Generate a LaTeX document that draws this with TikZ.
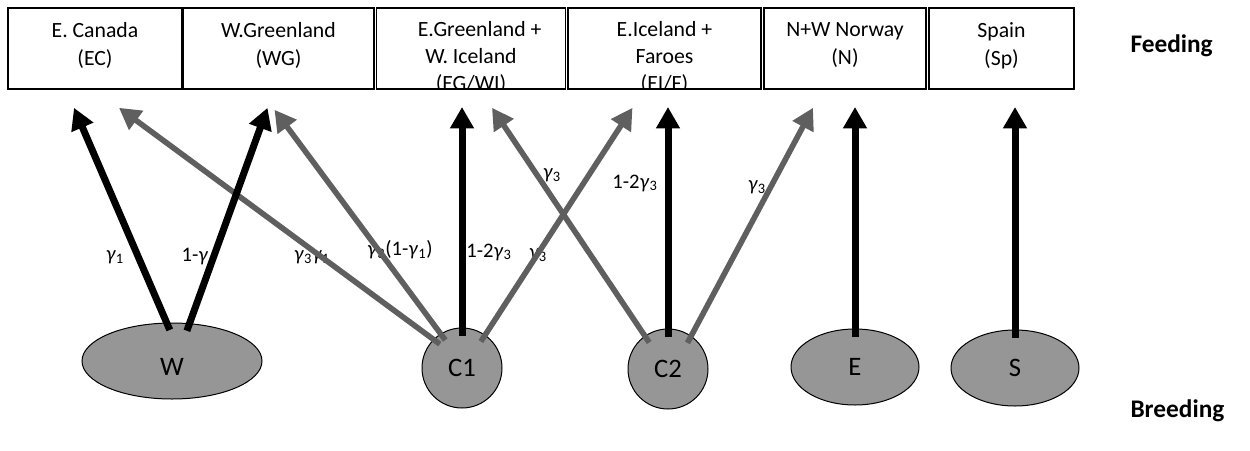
\documentclass[tikz,border=0pt]{standalone}
\usepackage{fontspec}
\setmainfont{Carlito}
\usetikzlibrary{arrows.meta,shapes.geometric,calc}

\definecolor{arrowgrey}{RGB}{95,95,95}
\definecolor{nodegrey}{RGB}{150,150,150}
\newcommand{\gm}[1]{\textit{γ}\textsubscript{#1}}

\tikzset{every picture/.style={line width=0.75pt}}
\tikzset{
  feed/.style={draw, line width=1.2pt, inner sep=0pt, minimum height=60.75pt, minimum width=#1*0.75pt},
  feedtext/.style={align=center, inner sep=0pt, font=\fontsize{16.3}{21}\selectfont},
  feedlong/.style={feedtext, font=\fontsize{16.3}{20.25}\selectfont},
  breed/.style={draw, fill=nodegrey, inner sep=0pt, font=\fontsize{20}{24}\selectfont},
  bigarrow/.style={line width=5.25pt, -{Triangle[width=17pt,length=16pt]}, shorten <=-6pt},
  blackarrow/.style={bigarrow, black},
  greyarrow/.style={bigarrow, arrowgrey, line width=4.2pt},
  gamma/.style={inner sep=0pt, font=\fontsize{15.5}{18}\selectfont},
  side/.style={anchor=west, inner sep=0pt, font=\fontsize{19}{22}\selectfont\bfseries}
}

\begin{document}
\begin{tikzpicture}[x=0.75pt,y=0.75pt,yscale=-1,xscale=1]
\useasboundingbox (0,0) rectangle (1250,450);

% feeding grounds
\node[feed=174] (EC) at (95,48.5) {};
\node[feed=191] (WG) at (278.5,48.5) {};
\node[feed=189] (EGWI) at (471,48.5) {};
\node[feed=193] (EIF) at (664.5,48.5) {};
\node[feed=162] (N) at (845,48.5) {};
\node[feed=145] (Sp) at (1001.5,48.5) {};

\node[feedtext] (EC-t) at (95,45.5) {E. Canada\\(EC)};
\node[feedtext] (WG-t) at (278.5,45.5) {W.Greenland\\(WG)};
\begin{scope}
\clip (EGWI.north west) rectangle (EGWI.south east);
\node[feedlong] (EGWI-t) at (471,57) {\hspace*{13pt}E.Greenland +\\W. Iceland\\(EG/WI)};
\end{scope}
\begin{scope}
\clip (EIF.north west) rectangle (EIF.south east);
\node[feedlong] (EIF-t) at (664.5,57) {E.Iceland +\\Faroes\\(EI/F)};
\end{scope}
\node[feedtext] (N-t) at (845,45.5) {N+W Norway\\(N)};
\node[feedtext] (Sp-t) at (1001.5,45.5) {Spain\\(Sp)};

\node[side] (feeding) at (1130,46) {Feeding};
\node[side] (breeding) at (1130,411) {Breeding};

% breeding components
\node[breed, ellipse, minimum width=135pt, minimum height=57pt, text height=22pt, text depth=0pt] (W) at (172,361) {W};
\node[breed, circle, minimum size=60pt] (C1) at (462,368) {C1};
\node[breed, circle, minimum size=60pt] (C2) at (668,369) {C2};
\node[breed, ellipse, minimum width=96pt, minimum height=57pt] (E) at (855,367) {E};
\node[breed, ellipse, minimum width=96pt, minimum height=57pt] (S) at (1015,368) {S};

\coordinate (tip) at (0,107);

% proportions
\node[gamma] (g-w1) at (115,257) {\gm{1}};
\node[gamma] (g-w2) at (195,257) {1-\textit{γ}};
\node[gamma] (g-c1a) at (312,257) {\gm{3}\gm{1}};
\node[gamma] (g-c1b) at (400,250) {\gm{3}(1-\gm{1})};
\node[gamma] (g-c1c) at (489,252) {1-2\gm{3}};
\node[gamma] (g-c1d) at (538,255) {\gm{3}};
\node[gamma] (g-c2a) at (552,175) {\gm{3}};
\node[gamma] (g-c2b) at (635,183) {1-2\gm{3}};
\node[gamma] (g-c2c) at (757,187) {\gm{3}};

% migrations
\draw[greyarrow] (C1.135) -- ($(EC.south)+(24,18)$);
\draw[greyarrow] (C1.122) -- ($(WG.south)+(-4,20)$);
\draw[greyarrow] (C1.55) -- ($(EIF.south)+(-32,18)$);
\draw[greyarrow] (C2.125) -- ($(EGWI.south)+(21,18)$);
\draw[greyarrow] (C2.55) -- ($(N.south)+(-32,18)$);
\draw[blackarrow] (W.98) -- ($(EC.south)+(-21,18)$);
\draw[blackarrow] (W.65) -- ($(WG.south)+(-11,18)$);
\draw[blackarrow] (C1.north) -- (C1.north |- tip);
\draw[blackarrow] (C2.north) -- (C2.north |- tip);
\draw[blackarrow] (E.north) -- (E.north |- tip);
\draw[blackarrow] (S.north) -- (S.north |- tip);

\end{tikzpicture}
\end{document}
